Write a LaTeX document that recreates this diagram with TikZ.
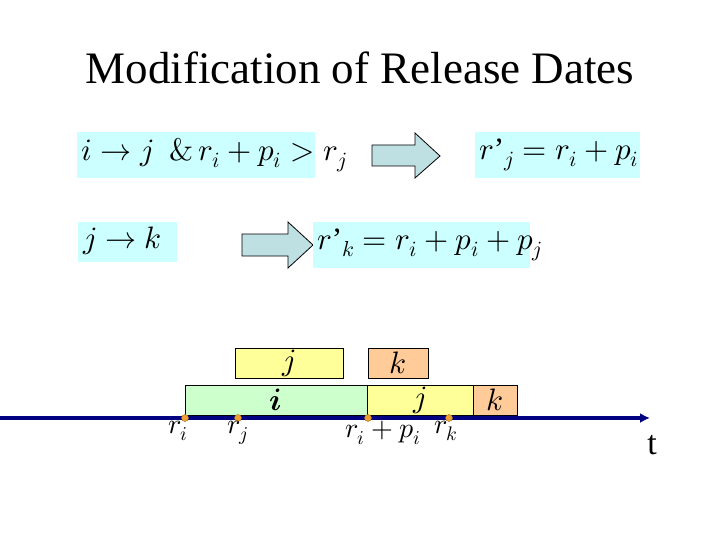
\documentclass[tikz,border=0pt]{standalone}
\usepackage{fontspec}
\setmainfont{Liberation Serif}
\usepackage{unicode-math}
\setmathfont{Latin Modern Math}
\usetikzlibrary{arrows.meta}
\definecolor{cy}{HTML}{CCFFFF}
\definecolor{ar}{HTML}{BFE0E3}
\definecolor{gr}{HTML}{CCFFCC}
\definecolor{ye}{HTML}{FFFF99}
\definecolor{orn}{HTML}{FFCC99}
\definecolor{nav}{HTML}{000080}
\definecolor{dot}{HTML}{F0A030}
\newcommand{\pr}{\mathord{\text{’}}}
\begin{document}
\begin{tikzpicture}[x=1pt,y=-1pt,
  cbox/.style={fill=cy,inner sep=0pt,anchor=north west},
  big/.style={font=\fontsize{31}{34}\selectfont},
  arr/.style={draw=black,fill=ar,line width=0.8pt},
  job/.style={draw=black,inner sep=0pt,anchor=north west,font=\fontsize{31}{34}\selectfont},
  tdot/.style={circle,fill=dot,draw=dot!70!black,inner sep=0pt,minimum size=7pt},
  lab/.style={font=\fontsize{28}{30}\selectfont,anchor=north}]
\useasboundingbox (0,0) rectangle (720,540);
\node (title) at (360,68) {\fontsize{45}{50}\selectfont Modification of Release Dates};
\node[cbox,minimum width=238pt,minimum height=46pt] (b1) at (77,132) {};
\node[anchor=west,big] (t1) at (78,155) {$i\rightarrow j\ \ \&\,r_i+p_i>r_j$};
\draw[arr] (372,145) -- (415,145) -- (415,133) -- (440,156) -- (415,178) -- (415,166) -- (372,166) -- cycle;
\node[cbox,minimum width=165pt,minimum height=46pt] (b2) at (475,132) {};
\node[anchor=west,big] (t2) at (476,155) {$r\pr_j=r_i+p_i$};
\node[cbox,minimum width=99pt,minimum height=40pt] (b3) at (78,222) {};
\node[anchor=west,big] (t3) at (80,241) {$j\rightarrow k$};
\draw[arr] (242,234) -- (288,234) -- (288,222) -- (313,245) -- (288,268) -- (288,256) -- (242,256) -- cycle;
\node[cbox,minimum width=217pt,minimum height=46pt] (b4) at (313,222) {};
\node[anchor=west,big] (t4) at (314,245) {$r\pr_k=r_i+p_i+p_j$};
% jobs
\node[job,fill=gr,minimum width=182pt,minimum height=30pt] (ji) at (185,385) {$\symbfit{i}$};
\node[job,fill=ye,minimum width=106pt,minimum height=30pt] (jj) at (367,385) {$j$};
\node[job,fill=orn,minimum width=44pt,minimum height=30pt] (jk) at (473,385) {$k$};
\node[job,fill=ye,minimum width=108pt,minimum height=30pt] (jj2) at (235,348) {$j$};
\node[job,fill=orn,minimum width=60pt,minimum height=30pt] (jk2) at (368,348) {$k$};
% axis
\coordinate (s) at (0,418);
\coordinate (e) at (650,418);
\draw[nav,line width=3.5pt,-{Latex[length=10pt,width=10pt]}] (s) -- (e);
\node[tdot] (d1) at (185,418) {};
\node[tdot] (d2) at (238,418) {};
\node[tdot] (d3) at (368,418) {};
\node[tdot] (d4) at (449,418) {};
\node[lab] (l1) at (178,418) {$r_i$};
\node[lab] (l2) at (238,418) {$r_j$};
\node[lab] (l3) at (383,418) {$r_i+p_i$};
\node[lab] (l4) at (446,418) {$r_k$};
\node[font=\fontsize{34}{36}\selectfont] (t) at (652,445) {t};
\end{tikzpicture}
\end{document}
